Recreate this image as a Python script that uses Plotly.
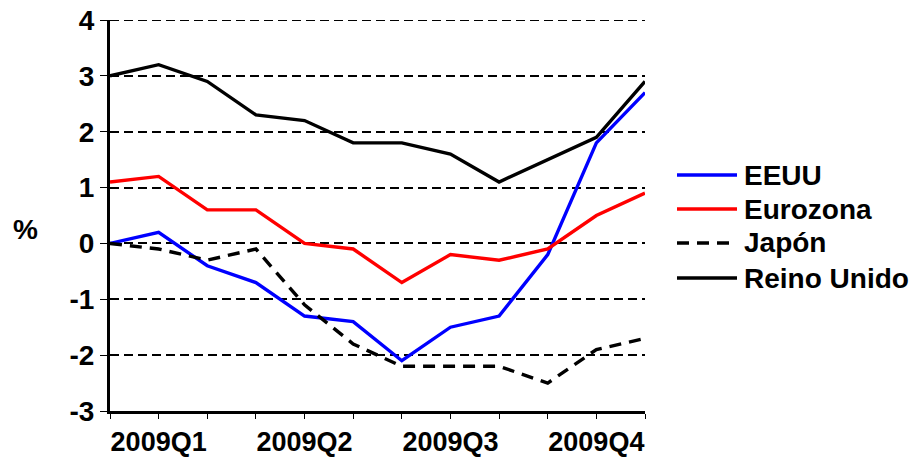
import plotly.graph_objects as go

# monthly points, labelled by quarter
periods = list(range(12))
tick_labels = ["", "2009Q1", "", "", "2009Q2", "", "", "2009Q3", "", "", "2009Q4", ""]
y_ticks = [-3, -2, -1, 0, 1, 2, 3, 4]
y_tick_labels = ["-3", "-2", "-1", "0", "1", "2", "3", "4"]

eeuu = [0.0, 0.2, -0.4, -0.7, -1.3, -1.4, -2.1, -1.5, -1.3, -0.2, 1.8, 2.7]
eurozona = [1.1, 1.2, 0.6, 0.6, 0.0, -0.1, -0.7, -0.2, -0.3, -0.1, 0.5, 0.9]
japon = [0.0, -0.1, -0.3, -0.1, -1.1, -1.8, -2.2, -2.2, -2.2, -2.5, -1.9, -1.7]
reino_unido = [3.0, 3.2, 2.9, 2.3, 2.2, 1.8, 1.8, 1.6, 1.1, 1.5, 1.9, 2.9]

series = [
    ("EEUU", eeuu, "#0000ff", "solid"),
    ("Eurozona", eurozona, "#ff0000", "solid"),
    ("Japón", japon, "#000000", "12px,8px"),
    ("Reino Unido", reino_unido, "#000000", "solid"),
]

FONT = dict(family="Liberation Sans, Arial, sans-serif", size=28, color="black", weight="bold")
GRID_DASH = "9px,5px"

# the page body adds an 8px margin, so the figure is a bit smaller
W, H, OFF = 913, 449, 8
plot_l, plot_r, plot_t, plot_b = 110 - OFF, 645 - OFF, 20 - OFF, 411 - OFF
pw, ph = plot_r - plot_l, plot_b - plot_t


def px_x(v):
    return (v - OFF - plot_l) / pw


def px_y(v):
    return (plot_b - (v - OFF)) / ph


fig = go.Figure()
for name, vals, color, dash in series:
    fig.add_trace(go.Scatter(
        x=periods, y=vals, name=name, mode="lines",
        line=dict(color=color, width=3.4, dash=dash),
        showlegend=False,
    ))

# plotly skips the gridline sitting on the top edge, so add it back
fig.add_shape(
    type="line", xref="paper", yref="y", layer="below",
    x0=0, x1=1, y0=y_ticks[-1], y1=y_ticks[-1],
    line=dict(color="black", width=1.8, dash=GRID_DASH),
)

# Legend drawn by hand so the sample lines are long like the original
row_y = [175, 209, 243, 278]
for (name, _, color, dash), yy in zip(series, row_y):
    fig.add_shape(
        type="line", xref="paper", yref="paper",
        x0=px_x(677), x1=px_x(737), y0=px_y(yy), y1=px_y(yy),
        line=dict(color=color, width=3.4, dash=dash),
    )
    fig.add_annotation(
        text=name, xref="paper", yref="paper",
        x=px_x(742), y=px_y(yy), xanchor="left", yanchor="middle",
        showarrow=False, font=FONT,
    )

fig.add_annotation(
    text="%", xref="paper", yref="paper",
    x=px_x(25), y=px_y(229), xanchor="center", yanchor="middle",
    showarrow=False, font=FONT,
)

fig.update_layout(
    width=W, height=H,
    margin=dict(l=plot_l, r=W - plot_r, t=plot_t, b=H - plot_b),
    paper_bgcolor="white", plot_bgcolor="white",
    font=FONT,
)

fig.update_xaxes(
    range=[0, 11], tickvals=periods, ticktext=tick_labels,
    showgrid=False, zeroline=False, automargin=False,
    showline=True, linewidth=3, linecolor="black",
    ticks="outside", ticklen=5, tickwidth=1, tickcolor="black",
    tickfont=dict(FONT, size=27), ticklabeloverflow="allow",
)
fig.update_yaxes(
    range=[-3, 4], tickvals=y_ticks, ticktext=y_tick_labels,
    showgrid=True, gridcolor="black", gridwidth=1.8, griddash=GRID_DASH,
    zeroline=False, automargin=False,
    showline=True, linewidth=3, linecolor="black",
    ticks="outside", ticklen=7, tickwidth=1, tickcolor="black",
    tickfont=FONT, ticklabeloverflow="allow",
)

fig.write_html("out.html")
